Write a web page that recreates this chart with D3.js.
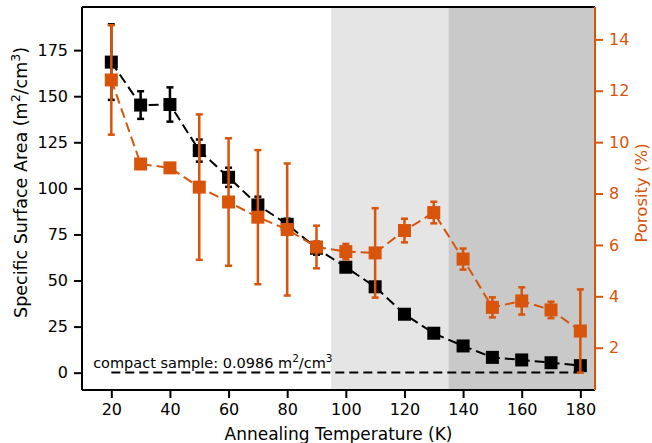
<!DOCTYPE html>
<html>
<head>
<meta charset="utf-8">
<script src="https://cdn.jsdelivr.net/npm/d3@7"></script>
<style>
  body { margin: 0; background: #fff; }
  text { font-family: "DejaVu Sans", sans-serif; }
</style>
</head>
<body>
<div id="chart"></div>
<script>
// data
var temps = [20, 30, 40, 50, 60, 70, 80, 90, 100, 110, 120, 130, 140, 150, 160, 170, 180];
var ssa = [168.5, 145.2, 145.5, 120.5, 106, 91, 80.5, 67.5, 57.2, 46.6, 31.7, 21.4, 14.5, 8.3, 6.9, 5.4, 3.8];
var ssaErr = [20.5, 7.5, 9.3, 6, 5.2, 4.5, 3, 3.5, 1.5, 1.5, 1, 1, 1, 0.8, 0.8, 0.8, 0.8];
var porosity = [12.42, 9.15, 9.0, 8.25, 7.67, 7.08, 6.6, 5.92, 5.74, 5.69, 6.56, 7.26, 5.45, 3.57, 3.82, 3.47, 2.65];
var porosityErr = [2.13, 0.15, 0.15, 2.83, 2.48, 2.61, 2.57, 0.83, 0.3, 1.74, 0.46, 0.42, 0.41, 0.39, 0.53, 0.32, 1.62];
var compactSSA = 0.0986;
var regions = [[95, 135, "#e5e5e5"], [135, 185, "#c9c9c9"]];
var xTicks = [20, 40, 60, 80, 100, 120, 140, 160, 180];
var yTicks = [0, 25, 50, 75, 100, 125, 150, 175];
var y2Ticks = [2, 4, 6, 8, 10, 12, 14];

var orange = "#d9540b";
var W = 652, H = 443;
var pl = 82, pr = 595, pt = 7, pb = 390;

var svg = d3.select("#chart").append("svg")
    .attr("width", W)
    .attr("height", H);

var x = d3.scaleLinear().domain([10, 185]).range([pl, pr]);
var y = d3.scaleLinear().domain([-9.4, 198.4]).range([pb, pt]);
var y2 = d3.scaleLinear().domain([0.354, 15.26]).range([pb, pt]);

// shaded temperature regions
svg.append("g").selectAll("rect")
    .data(regions)
    .enter().append("rect")
    .attr("x", function (d) { return x(d[0]); })
    .attr("width", function (d) { return x(d[1]) - x(d[0]); })
    .attr("y", pt)
    .attr("height", pb - pt)
    .attr("fill", function (d) { return d[2]; });

// compact sample reference line
svg.append("line")
    .attr("x1", x(20)).attr("x2", x(180))
    .attr("y1", y(compactSSA)).attr("y2", y(compactSSA))
    .attr("stroke", "#000")
    .attr("stroke-width", 2)
    .attr("stroke-dasharray", "9,5");

var compactLabel = svg.append("text")
    .attr("x", x(13.8))
    .attr("y", 368)
    .attr("font-size", 14.5)
    .attr("fill", "#000");
compactLabel.append("tspan").text("compact sample: 0.0986 m");
compactLabel.append("tspan").attr("dy", -6).attr("font-size", 10.5).text("2");
compactLabel.append("tspan").attr("dy", 6).text("/cm");
compactLabel.append("tspan").attr("dy", -6).attr("font-size", 10.5).text("3");

function drawSeries(vals, errs, ys, color) {
  var g = svg.append("g");
  var line = d3.line()
    .x(function (d, i) { return x(temps[i]); })
    .y(function (d) { return ys(d); });

  g.append("path")
    .datum(vals)
    .attr("d", line)
    .attr("fill", "none")
    .attr("stroke", color)
    .attr("stroke-width", 2)
    .attr("stroke-dasharray", "10,5");

  var eb = g.selectAll(".err")
    .data(vals)
    .enter().append("g");
  eb.append("line")
    .attr("x1", function (d, i) { return x(temps[i]); })
    .attr("x2", function (d, i) { return x(temps[i]); })
    .attr("y1", function (d, i) { return ys(d - errs[i]); })
    .attr("y2", function (d, i) { return ys(d + errs[i]); })
    .attr("stroke", color)
    .attr("stroke-width", 2.5);
  [-1, 1].forEach(function (s) {
    eb.append("line")
      .attr("x1", function (d, i) { return x(temps[i]) - 3.5; })
      .attr("x2", function (d, i) { return x(temps[i]) + 3.5; })
      .attr("y1", function (d, i) { return ys(d + s * errs[i]); })
      .attr("y2", function (d, i) { return ys(d + s * errs[i]); })
      .attr("stroke", color)
      .attr("stroke-width", 2.5);
  });

  g.selectAll(".pt")
    .data(vals)
    .enter().append("rect")
    .attr("x", function (d, i) { return x(temps[i]) - 6.5; })
    .attr("y", function (d) { return ys(d) - 6.5; })
    .attr("width", 13)
    .attr("height", 13)
    .attr("fill", color);
}

drawSeries(ssa, ssaErr, y, "#000");
drawSeries(porosity, porosityErr, y2, orange);

// axes
var xAxis = svg.append("g")
    .attr("transform", "translate(0," + pb + ")")
    .call(d3.axisBottom(x).tickValues(xTicks).tickSize(8).tickPadding(6));
var yAxis = svg.append("g")
    .attr("transform", "translate(" + pl + ",0)")
    .call(d3.axisLeft(y).tickValues(yTicks).tickSize(8).tickPadding(6));
var y2Axis = svg.append("g")
    .attr("transform", "translate(" + pr + ",0)")
    .call(d3.axisRight(y2).tickValues(y2Ticks).tickSize(8).tickPadding(6));

[xAxis, yAxis, y2Axis].forEach(function (a) {
  a.selectAll("text").attr("font-size", 16).attr("font-family", "DejaVu Sans");
  a.selectAll(".tick line").attr("stroke-width", 2);
  a.select(".domain").remove();
});
y2Axis.selectAll("text").attr("fill", orange);
y2Axis.selectAll(".tick line").attr("stroke", orange);

// spines
svg.append("line").attr("x1", pl).attr("x2", pr).attr("y1", pt).attr("y2", pt)
    .attr("stroke", "#000").attr("stroke-width", 2);
svg.append("line").attr("x1", pl).attr("x2", pr).attr("y1", pb).attr("y2", pb)
    .attr("stroke", "#000").attr("stroke-width", 2);
svg.append("line").attr("x1", pl).attr("x2", pl).attr("y1", pt).attr("y2", pb)
    .attr("stroke", "#000").attr("stroke-width", 2);
svg.append("line").attr("x1", pr).attr("x2", pr).attr("y1", pt).attr("y2", pb)
    .attr("stroke", orange).attr("stroke-width", 2);

// axis labels
svg.append("text")
    .attr("x", (pl + pr) / 2)
    .attr("y", 440)
    .attr("text-anchor", "middle")
    .attr("font-size", 17)
    .text("Annealing Temperature (K)");

var yl = svg.append("text")
    .attr("transform", "translate(27,182.5) rotate(-90)")
    .attr("text-anchor", "middle")
    .attr("font-size", 17.5);
yl.append("tspan").text("Specific Surface Area (m");
yl.append("tspan").attr("dy", -7).attr("font-size", 12.5).text("2");
yl.append("tspan").attr("dy", 7).text("/cm");
yl.append("tspan").attr("dy", -7).attr("font-size", 12.5).text("3");
yl.append("tspan").attr("dy", 7).text(")");

svg.append("text")
    .attr("transform", "translate(647,193) rotate(-90)")
    .attr("text-anchor", "middle")
    .attr("font-size", 16.5)
    .attr("fill", orange)
    .text("Porosity (%)");
</script>
</body>
</html>
